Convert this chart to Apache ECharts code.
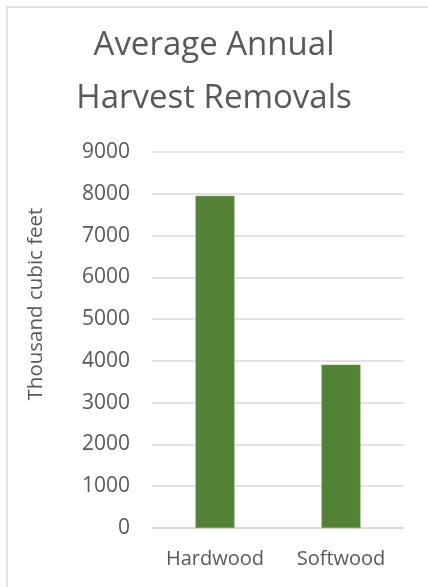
<!DOCTYPE html>
<html>
<head>
<meta charset="utf-8">
<script src="https://cdn.jsdelivr.net/npm/echarts@6/dist/echarts.min.js"></script>
<style>
  html, body { margin: 0; padding: 0; background: #fff; }
  #chart { width: 428px; height: 587px; }
</style>
</head>
<body>
<div id="chart"></div>
<script>
var categories = ['Hardwood', 'Softwood'];
var removals = [7950, 3910];

var myChart = echarts.init(document.getElementById('chart'));
var textColor = '#595959';
var font = '"Open Sans", sans-serif';

var option = {
    backgroundColor: '#fff',
    animation: false,
    graphic: [{
        type: 'rect',
        shape: { x: 7, y: 7, width: 440, height: 600 },
        style: { fill: 'none', stroke: '#d9d9d9', lineWidth: 1.5 }
    }],
    title: {
        text: 'Average Annual\nHarvest Removals',
        left: 'center',
        top: 14,
        textStyle: {
            color: textColor,
            fontFamily: font,
            fontWeight: 'normal',
            fontSize: 33,
            lineHeight: 53
        }
    },
    grid: {
        left: 152,
        right: 24,
        top: 152,
        bottom: 59
    },
    xAxis: {
        type: 'category',
        data: categories,
        axisLine: { show: true, lineStyle: { color: '#d9d9d9', width: 1.5 } },
        axisTick: { show: false },
        axisLabel: {
            interval: 0,
            color: textColor,
            fontFamily: font,
            fontSize: 20,
            margin: 21
        }
    },
    yAxis: {
        type: 'value',
        min: 0,
        max: 9000,
        interval: 1000,
        name: 'Thousand cubic feet',
        nameLocation: 'middle',
        nameGap: 105,
        nameTextStyle: {
            color: textColor,
            fontFamily: font,
            fontSize: 20.5,
            padding: [0, 0, 0, 72]
        },
        axisLine: { show: false },
        axisTick: { show: false },
        splitLine: { lineStyle: { color: '#d9d9d9', width: 1.5 } },
        axisLabel: {
            color: textColor,
            fontFamily: font,
            fontSize: 21,
            margin: 22,
            formatter: function (v) { return String(v); }
        }
    },
    series: [{
        type: 'bar',
        data: removals,
        barWidth: 39,
        itemStyle: {
            color: '#548235',
            borderColor: '#7fa35f',
            borderWidth: 0.5
        }
    }]
};
myChart.setOption(option);
</script>
</body>
</html>
